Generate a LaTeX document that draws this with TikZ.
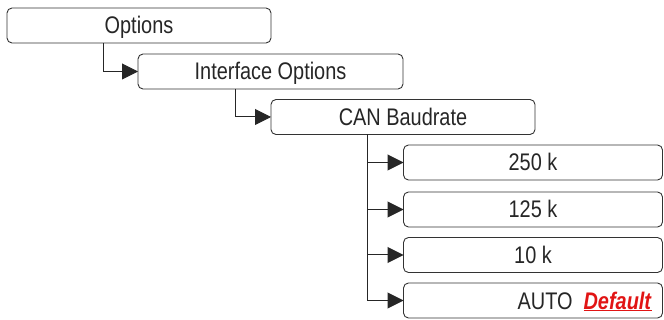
\documentclass[tikz,border=0pt]{standalone}
\usepackage{fontspec}
\setmainfont{Liberation Sans}[FakeStretch=0.83]
\usetikzlibrary{arrows.meta}
\definecolor{defred}{RGB}{225,20,20}
\begin{document}
\begin{tikzpicture}[x=1pt,y=-1pt,
  menubox/.style={draw=black!80, line width=0.9pt, rounded corners=5pt, inner sep=0pt, outer sep=0pt,
    minimum height=35pt, text height=17pt, text depth=0pt, font=\fontsize{24}{26}\selectfont, text=black!85},
  arr/.style={draw=black!85, line width=1pt, -{Triangle[length=16pt,width=16pt]}}]
\useasboundingbox (0,0) rectangle (664,320);
\node[menubox, minimum width=264pt] (opt) at (139,25.5) {Options};
\node[menubox, minimum width=265pt] (intf) at (270.5,71.5) {Interface Options};
\node[menubox, minimum width=264pt] (can) at (403,117) {CAN Baudrate};
\node[menubox, minimum width=259pt] (b250) at (533,162.5) {250 k};
\node[menubox, minimum width=259pt] (b125) at (533,209.5) {125 k};
\node[menubox, minimum width=259pt] (b10) at (533,255) {10 k};
\node[menubox, minimum width=259pt] (auto) at (533,300.5) {};
\node[anchor=base east, inner sep=0pt, font=\fontsize{24}{26}\selectfont, text=black!85] (autotxt) at (652,309)
  {AUTO\hspace{11pt}\textcolor{defred}{\underline{\textbf{\textit{Default}}}}};
\draw[arr] ([xshift=-36pt]opt.south) |- (intf.west);
\draw[arr] ([xshift=-35pt]intf.south) |- (can.west);
\draw[arr] ([xshift=-36pt]can.south) |- (b250.west);
\draw[arr] ([xshift=-36pt]can.south) |- (b125.west);
\draw[arr] ([xshift=-36pt]can.south) |- (b10.west);
\draw[arr] ([xshift=-36pt]can.south) |- (auto.west);
\end{tikzpicture}
\end{document}
